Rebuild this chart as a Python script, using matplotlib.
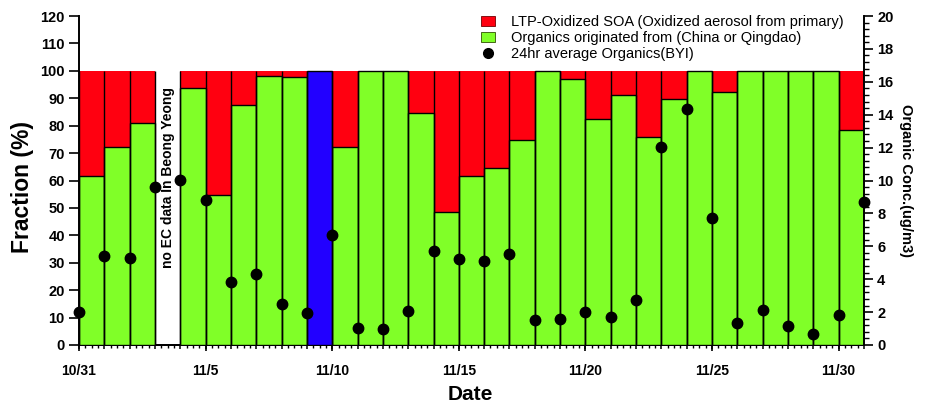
import numpy as np
import matplotlib
matplotlib.use('Agg')
import matplotlib.pyplot as plt
from matplotlib.patches import Patch
from matplotlib.lines import Line2D
from matplotlib.ticker import MultipleLocator

plt.rcParams['font.family'] = ['Liberation Sans', 'DejaVu Sans']

# ---------------- data ----------------
date_labels = ['10/31', '11/5', '11/10', '11/15', '11/20', '11/25', '11/30']
label_days = [0, 5, 10, 15, 20, 25, 30]

bar_days = list(range(31))          # 10/31 ... 11/30 (bar spans day -> day+1)
green_pct = [61.6, 72.3, 81.0, np.nan, 93.6, 54.8, 87.6, 98.0, 97.7, np.nan,
             72.3, 100, 100, 84.6, 48.6, 61.8, 64.4, 74.8, 100, 97.0,
             82.5, 91.3, 75.7, 89.8, 100, 92.3, 100, 100, 100, 100, 78.4]
total_pct = 100

blue_days = [9]
blue_pct = [100]

no_data_day = 3
no_data_text = 'no EC data In Beong Yeong'

conc_days = list(range(32))         # 10/31 ... 12/1
conc = [2.02, 5.43, 5.27, 9.62, 10.03, 8.81, 3.83, 4.30, 2.49, 1.96,
        6.7, 1.05, 0.95, 2.08, 5.7, 5.2, 5.13, 5.53, 1.52, 1.56,
        2.0, 1.7, 2.72, 12.06, 14.37, 7.7, 1.36, 2.15, 1.15, 0.69,
        1.8, 8.67]

legend_labels = ['LTP-Oxidized SOA (Oxidized aerosol from primary)',
                 'Organics originated from (China or Qingdao)',
                 '24hr average Organics(BYI)']

# ---------------- style ----------------
RED = '#FF0010'
GREEN = '#80FF28'
BLUE = '#2200FF'

W, H = 927, 409
fig = plt.figure(figsize=(W / 100, H / 100), dpi=100)
ax = fig.add_axes([79 / W, 1 - 345 / H, (864 - 79) / W, (345 - 16) / H])

g = np.array(green_pct, dtype=float)
days = np.array(bar_days)
valid = ~np.isnan(g)

# red (remainder up to 100)
ax.bar(days[valid], total_pct - g[valid], bottom=g[valid], width=1.0,
       align='edge', color=RED, edgecolor='none', zorder=2)
# green
ax.bar(days[valid], g[valid], width=1.0, align='edge', color=GREEN,
       edgecolor='black', linewidth=1.0, zorder=3)
# blue
ax.bar(blue_days, blue_pct, width=1.0, align='edge', color=BLUE,
       edgecolor='black', linewidth=1.0, zorder=3)
# separators through the whole bar
sep = [d for d in range(len(bar_days) + 1)]
ax.vlines(sep, 0, total_pct, colors='black', linewidth=1.0, zorder=4)

ax.text(no_data_day + 0.5, 61, no_data_text, rotation=90, ha='center',
        va='center', fontsize=10, fontweight='bold', zorder=5)

ax.set_xlim(0, 31)
ax.set_ylim(0, 120)
ax.set_yticks(np.arange(0, 121, 10))
for lab in ax.get_yticklabels():
    lab.set_fontweight('bold')
ax.tick_params(axis='y', which='major', length=7.2, width=1.2, pad=3,
               labelsize=10.5, direction='out')

ax.xaxis.set_major_locator(MultipleLocator(1))
ax.xaxis.set_minor_locator(MultipleLocator(0.25))
ax.tick_params(axis='x', which='major', length=3.0, width=1.1,
               labelbottom=False, direction='out')
ax.tick_params(axis='x', which='minor', length=1.8, width=1.0,
               direction='out')

sec = ax.secondary_xaxis('bottom')
sec.set_xticks(label_days)
sec.set_xticklabels(date_labels, fontweight='bold')
sec.tick_params(axis='x', length=4.5, width=1.2, pad=9, labelsize=10)
sec.spines['bottom'].set_linewidth(1.4)

for s in ['top', 'right']:
    ax.spines[s].set_visible(False)
for s in ['left', 'bottom']:
    ax.spines[s].set_linewidth(1.4)

ax2 = ax.twinx()
ax2.plot(conc_days, conc, 'o', color='black', ms=7.5, clip_on=False, zorder=6)
ax2.set_ylim(0, 20)
ax2.set_yticks(np.arange(0, 21, 2))
ax2.yaxis.set_minor_locator(MultipleLocator(0.4))
for lab in ax2.get_yticklabels():
    lab.set_fontweight('bold')
ax2.tick_params(axis='y', which='major', length=6.5, width=1.2, pad=3,
                labelsize=10.5)
ax2.tick_params(axis='y', which='minor', length=3.6, width=1.0)
for s in ['top', 'left', 'bottom']:
    ax2.spines[s].set_visible(False)
ax2.spines['right'].set_linewidth(1.4)

fig.text(22 / W, 1 - 187 / H, 'Fraction (%)', rotation=90, ha='center',
         va='center', fontsize=16.5, fontweight='bold')
fig.text(470 / W, 1 - 395 / H, 'Date', ha='center', va='center',
         fontsize=15, fontweight='bold')
fig.text(906 / W, 1 - 181 / H, 'Organic Conc.(ug/m3)', rotation=270,
         ha='center', va='center', fontsize=10.5, fontweight='bold')

handles = [Patch(facecolor=RED, edgecolor='#700000', linewidth=0.6),
           Patch(facecolor=GREEN, edgecolor='#305000', linewidth=0.6),
           Line2D([], [], marker='o', color='black', ls='none', ms=7)]
fig.legend(handles, legend_labels, loc='upper left',
           bbox_to_anchor=(477 / W, 1 - 11 / H), frameon=True,
           facecolor='white', edgecolor='none', fancybox=False,
           fontsize=10.5, labelspacing=0.12, handlelength=0.9,
           handleheight=0.7, handletextpad=1.1, borderpad=0.3,
           borderaxespad=0, framealpha=1)

fig.savefig('out.png', dpi=100)
